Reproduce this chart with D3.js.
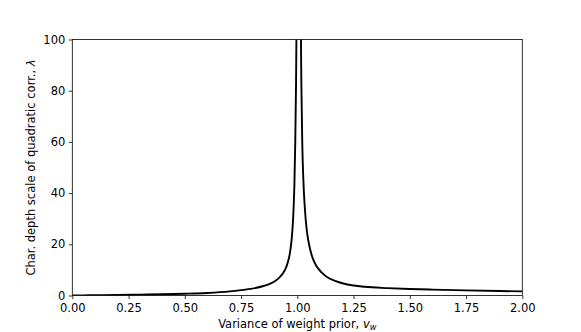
<!DOCTYPE html>
<html>
<head>
<meta charset="utf-8">
<script src="https://cdn.jsdelivr.net/npm/d3@7"></script>
<style>
  body { margin: 0; background: #fff; }
  text { font-family: "DejaVu Sans", sans-serif; }
</style>
</head>
<body>
<svg id="chart" width="581" height="332"></svg>
<script>
// values
var vwLeft = [0, 0.05, 0.1, 0.2, 0.3, 0.4, 0.5, 0.6, 0.7, 0.75, 0.8, 0.85, 0.88, 0.9, 0.92, 0.935, 0.948, 0.958, 0.967, 0.975, 0.982, 0.987, 0.991, 0.994, 0.996, 0.998];
var lamLeft = [0, 0.05, 0.1, 0.2, 0.35, 0.5, 0.7, 1.0, 1.6, 2.1, 2.7, 3.7, 4.6, 5.6, 7.0, 8.5, 10.5, 13, 16.5, 22, 31, 43, 60, 80, 100, 200];
var vwRight = [1.0155, 1.0165, 1.019, 1.022, 1.027, 1.034, 1.042, 1.05, 1.06, 1.071, 1.085, 1.108, 1.13, 1.168, 1.2, 1.25, 1.3, 1.4, 1.5, 1.6, 1.75, 1.9, 2.0];
var lamRight = [200, 100, 77, 60, 45, 33.5, 25.5, 21, 17, 14, 11.5, 9.0, 7.3, 5.7, 4.8, 3.9, 3.4, 2.9, 2.55, 2.3, 2.0, 1.75, 1.6];
var xTicks = [0, 0.25, 0.5, 0.75, 1.0, 1.25, 1.5, 1.75, 2.0];
var yTicks = [0, 20, 40, 60, 80, 100];

var margin = { left: 72.3, right: 581 - 522.3, top: 39.5, bottom: 332 - 295.5 };
var width = 581 - margin.left - margin.right;
var height = 332 - margin.top - margin.bottom;
var fs = 11.5;

const svg = d3.select("#chart");
var g = svg.append("g").attr("transform", "translate(" + margin.left + "," + margin.top + ")");

var x = d3.scaleLinear().domain([0, 2]).range([0, width]);
var y = d3.scaleLinear().domain([0, 100]).range([height, 0]);

g.append("clipPath").attr("id", "clip")
  .append("rect").attr("width", width).attr("height", height);

var points = vwLeft.map(function (v, i) { return [v, lamLeft[i]]; })
  .concat(vwRight.map(function (v, i) { return [v, lamRight[i]]; }));

var line = d3.line()
  .x(function (d) { return x(d[0]); })
  .y(function (d) { return y(d[1]); })
  .curve(d3.curveMonotoneX);

g.append("path")
  .datum(points)
  .attr("clip-path", "url(#clip)")
  .attr("fill", "none")
  .attr("stroke", "#000")
  .attr("stroke-width", 1.9)
  .attr("d", line);

// axes
var xAxis = g.append("g").attr("transform", "translate(0," + height + ")")
  .call(d3.axisBottom(x).tickValues(xTicks).tickFormat(d3.format(".2f")).tickSizeOuter(0).tickSize(3.5).tickPadding(4.5));
var yAxis = g.append("g")
  .call(d3.axisLeft(y).tickValues(yTicks).tickSizeOuter(0).tickSize(3.5).tickPadding(3.5));
[xAxis, yAxis].forEach(function (a) {
  a.select(".domain").remove();
  a.selectAll("text").attr("font-size", fs).attr("fill", "#000").style("font-family", "DejaVu Sans");
  a.selectAll("line").attr("stroke", "#000").attr("stroke-width", 0.8);
});

// frame
g.append("rect").attr("width", width).attr("height", height)
  .attr("fill", "none").attr("stroke", "#000").attr("stroke-width", 0.8);

// labels
var xl = svg.append("text")
  .attr("x", margin.left + width / 2).attr("y", 327.5)
  .attr("text-anchor", "middle").attr("font-size", fs);
xl.append("tspan").text("Variance of weight prior, ");
xl.append("tspan").attr("font-style", "italic").text("v");
xl.append("tspan").attr("font-style", "italic").attr("font-size", 8.2).attr("dy", 2.5).text("w");

var yl = svg.append("text")
  .attr("transform", "translate(34.5," + (margin.top + height / 2) + ") rotate(-90)")
  .attr("text-anchor", "middle").attr("font-size", fs);
yl.append("tspan").text("Char. depth scale of quadratic corr., ");
yl.append("tspan").attr("font-style", "italic").text("λ");
</script>
</body>
</html>
